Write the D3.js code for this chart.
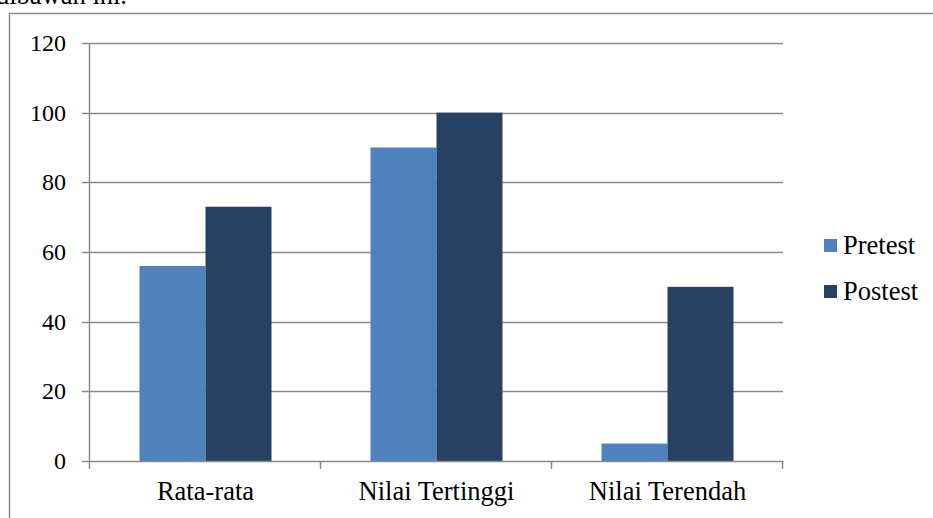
<!DOCTYPE html>
<html>
<head>
<meta charset="utf-8">
<script src="https://cdn.jsdelivr.net/npm/d3@7"></script>
<style>
  html, body { margin: 0; padding: 0; background: #fff; }
  svg { display: block; }
</style>
</head>
<body>
<svg id="chart" width="933" height="518" font-family="'Liberation Serif', 'DejaVu Serif', serif"></svg>
<script>
// Data
const categories = ["Rata-rata", "Nilai Tertinggi", "Nilai Terendah"];
const seriesNames = ["Pretest", "Postest"];
const pretest = [56, 90, 5];
const postest = [73, 100, 50];
const yTicks = [0, 20, 40, 60, 80, 100, 120];
const colors = ["#4f81bd", "#264162"];

const svg = d3.select("#chart");
const W = 933, H = 518;
const plot = { left: 90, right: 783, top: 43, bottom: 461 };
const gridColor = "#8a8a8a";
const tickFont = 24;
const labelFont = 26.5;
const serif = "'Liberation Serif', 'DejaVu Serif', serif";

// Preceding paragraph text, cut off at the top edge
svg.append("text")
  .attr("x", -4).attr("y", 4)
  .attr("font-family", serif)
  .attr("font-size", labelFont)
  .text("dibawah ini.");

// Chart frame
svg.append("path")
  .attr("d", `M9.5,${H} V13.5 H${W}`)
  .attr("fill", "none")
  .attr("stroke", gridColor)
  .attr("stroke-width", 1.5);

const x0 = d3.scaleBand().domain(categories).range([plot.left, plot.right]).paddingInner(0).paddingOuter(0);
// Gap width 150%: the two bars take 2 of 3.5 bar units per category
const groupW = x0.bandwidth() * 2 / 3.5;
const x1 = d3.scaleBand().domain(seriesNames).range([0, groupW]).padding(0);
const y = d3.scaleLinear().domain([0, 120]).range([plot.bottom, plot.top]);

// Horizontal gridlines
svg.append("g").selectAll("line").data(yTicks.filter(d => d > 0)).join("line")
  .attr("x1", plot.left - 8).attr("x2", plot.right)
  .attr("y1", d => Math.round(y(d)) + 0.5).attr("y2", d => Math.round(y(d)) + 0.5)
  .attr("stroke", gridColor).attr("stroke-width", 1.5);

// Bars
const groups = svg.append("g").selectAll("g").data(categories).join("g")
  .attr("transform", c => `translate(${x0(c) + (x0.bandwidth() - groupW) / 2},0)`);
groups.selectAll("rect")
  .data((c, i) => [
    { s: "Pretest", v: pretest[i] },
    { s: "Postest", v: postest[i] }
  ])
  .join("rect")
  .attr("x", d => x1(d.s))
  .attr("width", x1.bandwidth())
  .attr("y", d => y(d.v))
  .attr("height", d => y(0) - y(d.v))
  .attr("fill", (d, i) => colors[i]);

// Y axis
const yAxis = svg.append("g");
yAxis.append("line")
  .attr("x1", plot.left - 0.5).attr("x2", plot.left - 0.5)
  .attr("y1", plot.top).attr("y2", plot.bottom + 0.5)
  .attr("stroke", gridColor).attr("stroke-width", 1.5);
yAxis.append("line")
  .attr("x1", plot.left - 8).attr("x2", plot.left)
  .attr("y1", Math.round(y(0)) + 0.5).attr("y2", Math.round(y(0)) + 0.5)
  .attr("stroke", gridColor).attr("stroke-width", 1.5);
yAxis.selectAll("text").data(yTicks).join("text")
  .attr("x", 66).attr("y", d => y(d) + 8)
  .attr("text-anchor", "end")
  .attr("font-family", serif)
  .attr("font-size", tickFont)
  .text(d => d);

// X axis
const xAxis = svg.append("g");
xAxis.append("line")
  .attr("x1", plot.left).attr("x2", plot.right + 0.5)
  .attr("y1", Math.round(y(0)) + 0.5).attr("y2", Math.round(y(0)) + 0.5)
  .attr("stroke", gridColor).attr("stroke-width", 1.5);
const boundaries = categories.map(c => x0(c)).concat([plot.right]);
xAxis.selectAll("line.tick").data(boundaries).join("line")
  .attr("class", "tick")
  .attr("x1", d => d - 0.5).attr("x2", d => d - 0.5)
  .attr("y1", plot.bottom).attr("y2", plot.bottom + 8)
  .attr("stroke", gridColor).attr("stroke-width", 1.5);
xAxis.selectAll("text").data(categories).join("text")
  .attr("x", c => x0(c) + x0.bandwidth() / 2)
  .attr("y", 500)
  .attr("text-anchor", "middle")
  .attr("font-family", serif)
  .attr("font-size", labelFont)
  .text(c => c);

// Legend
const legend = svg.append("g").attr("transform", "translate(824,239)");
const items = legend.selectAll("g").data(seriesNames).join("g")
  .attr("transform", (d, i) => `translate(0,${i * 46})`);
items.append("rect").attr("width", 13).attr("height", 13).attr("fill", (d, i) => colors[i]);
items.append("text").attr("x", 19).attr("y", 15)
  .attr("font-family", serif)
  .attr("font-size", labelFont)
  .text(d => d);
</script>
</body>
</html>
